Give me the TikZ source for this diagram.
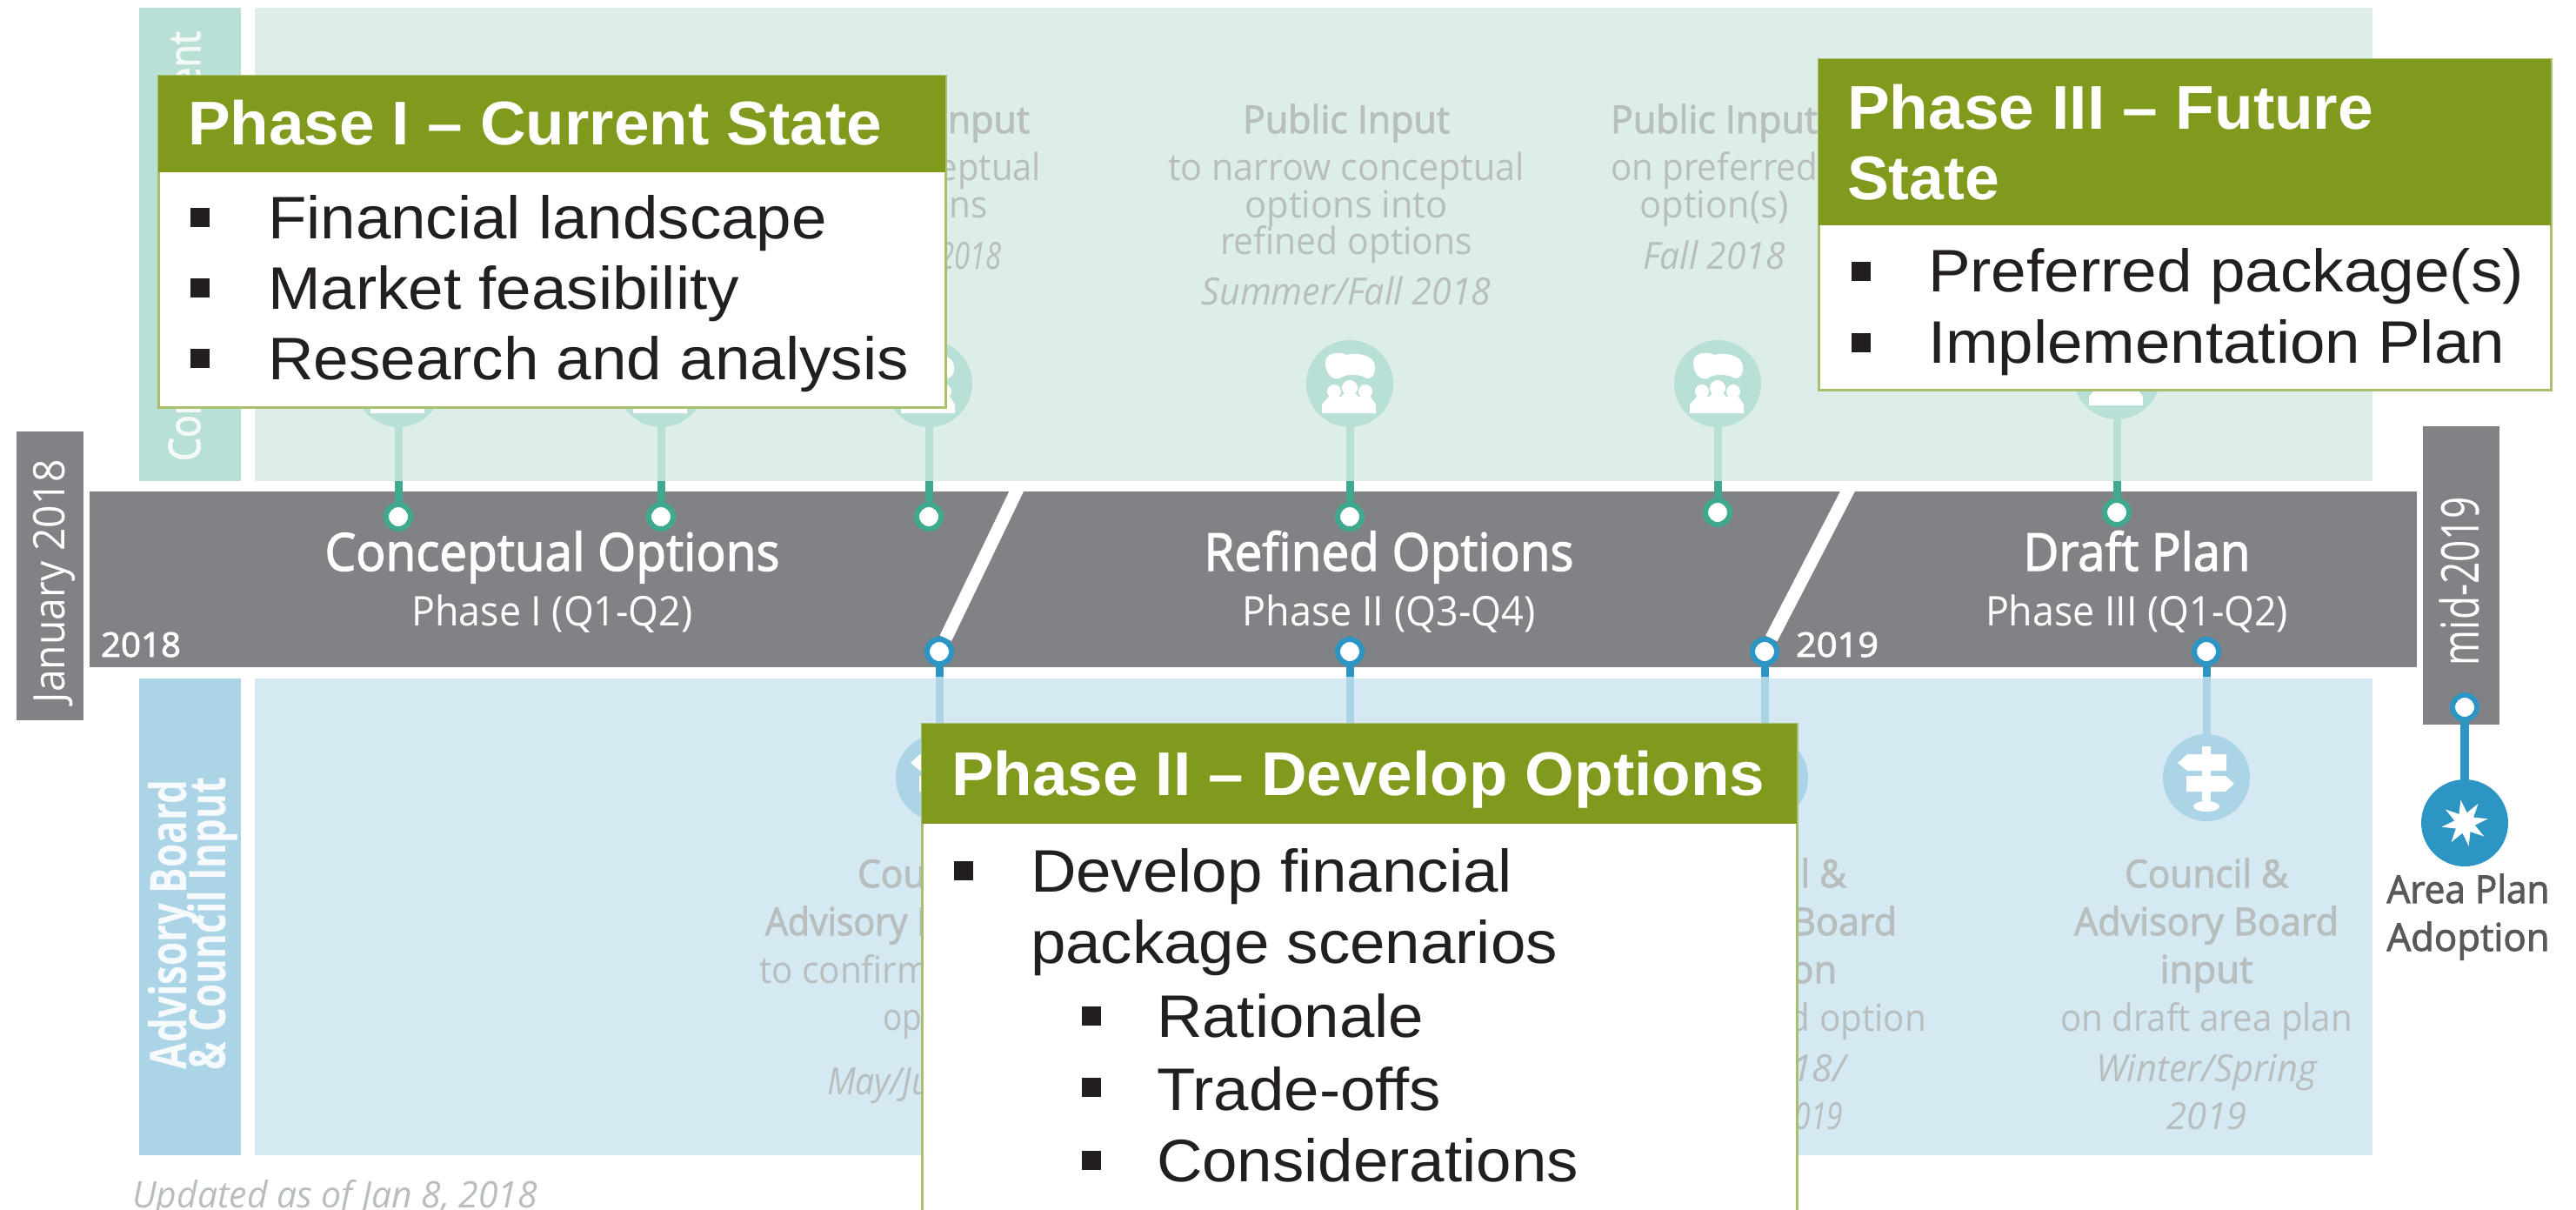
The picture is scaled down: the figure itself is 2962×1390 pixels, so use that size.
\documentclass[tikz,border=0pt]{standalone}
\usepackage{graphicx}
\usepackage{fontspec}
\setmainfont{Open Sans}
\newfontfamily\arialf{Liberation Sans}
\newfontfamily\osemi[FakeBold=2.2]{Open Sans}
\definecolor{tealmain}{HTML}{DDEDE8}
\definecolor{tealstrip}{HTML}{B9E0D6}
\definecolor{tealdark}{HTML}{3FA98F}
\definecolor{tealicon}{HTML}{B9E0D6}
\definecolor{bluemain}{HTML}{D4E9F2}
\definecolor{bluestrip}{HTML}{ABD4E6}
\definecolor{bluedark}{HTML}{2D95C4}
\definecolor{greyband}{HTML}{808285}
\definecolor{fadetext}{HTML}{B8BDBE}
\definecolor{phasegreen}{HTML}{7F9A1C}
\definecolor{phaseedge}{HTML}{A9BF70}
\definecolor{inktext}{HTML}{231F20}
\definecolor{dimtext}{HTML}{58595B}
\newcommand{\fw}[2]{\resizebox{#1pt}{\height}{#2}}
\tikzset{
  lab/.style={anchor=base,inner sep=0pt,outer sep=0pt},
  labw/.style={anchor=base west,inner sep=0pt,outer sep=0pt},
  fade/.style={text=fadetext,font=\fontsize{43}{48}\selectfont},
  fadeb/.style={text=fadetext,font=\fontsize{44}{48}\osemi},
  fadei/.style={text=fadetext,font=\fontsize{43}{48}\itshape},
  title/.style={text=white,font=\fontsize{60}{64}\osemi},
  subt/.style={text=white,font=\fontsize{47}{50}\selectfont},
  yearl/.style={text=white,font=\fontsize{39}{42}\osemi},
  head/.style={text=white,font=\fontsize{71}{75}\arialf\bfseries},
  body/.style={text=inktext,font=\fontsize{69}{75}\arialf},
  bul/.style={fill=inktext,inner sep=0pt,minimum size=22pt,outer sep=0pt},
  tdot/.style={circle,fill=white,draw=tealdark,line width=6pt,minimum size=28pt,inner sep=0pt},
  bdot/.style={circle,fill=white,draw=bluedark,line width=6pt,minimum size=28pt,inner sep=0pt},
  ticon/.style={circle,fill=tealicon,minimum size=100pt,inner sep=0pt,outer sep=0pt},
  bicon/.style={circle,fill=bluestrip,minimum size=100pt,inner sep=0pt,outer sep=0pt},
  tstem/.style={tealicon,line width=9pt},
  tstemd/.style={tealdark,line width=9pt},
  bstem/.style={bluestrip,line width=9pt},
  bstemd/.style={bluedark,line width=9pt},
  slash/.style={white,line width=15pt},
  crowdicon/.pic={
    \fill[white] (-28,-24) .. controls (-28,-37) and (-10,-37) .. (-4,-33)
       .. controls (6,-36) and (28,-34) .. (29,-20)
       .. controls (30,-8) and (22,-3) .. (16,-8)
       .. controls (8,-11) and (-4,-11) .. (-10,-7)
       .. controls (-18,-2) and (-28,-10) .. (-28,-24) -- cycle;
    \fill[white] (-18,9) circle (8) (0,5) circle (9) (18,9) circle (8);
    \fill[white] (-32,34) -- (-32,24) -- (-24,15) -- (-10,15) -- (-6,11) -- (6,11) -- (10,15) -- (24,15) -- (30,24) -- (30,34) -- cycle;
  },
  signicon/.pic={
    \fill[white] (-5,-36) rectangle (5,30);
    \fill[white] (-33,-17) -- (-22,-27) -- (23,-27) -- (23,-8) -- (-22,-8) -- cycle;
    \fill[white] (-23,-2) -- (22,-2) -- (32,7) -- (22,16) -- (-23,16) -- cycle;
    \fill[white] (0,33) ellipse (15 and 6);
  }
}
\begin{document}
\begin{tikzpicture}[x=1pt,y=-1pt]
\clip (0,0) rectangle (2962,1390);
% bands
\fill[tealstrip] (160,9) rectangle (277,553);
\fill[tealmain] (293,9) rectangle (2728,553);
\fill[bluestrip] (160,780) rectangle (277,1328);
\fill[bluemain] (293,780) rectangle (2728,1328);
\fill[greyband] (103,565) rectangle (2779,767);
\fill[greyband] (19,496) rectangle (96,828);
\fill[greyband] (2786,490) rectangle (2874,833);
% named nodes for the timeline
\coordinate (sa) at (1172,558);
\coordinate (sb) at (2128,558);
\foreach \n/\x in {1/1080,2/1552,3/2029,4/2537}{
  \node[bicon] (bi\n) at (\x,894) {};
  \node[bdot] (bd\n) at (\x,749) {};
  \coordinate (bs\n) at (\x,778);
  \pic at (bi\n) {signicon};
  \draw[bstem] (bi\n) -- (bs\n);
  \draw[bstemd] (bs\n) -- (bd\n);
}
\draw[slash] (bd1) -- (sa);
\draw[slash] (bd3) -- (sb);
\node[bdot] at (bd1) {};
\node[bdot] at (bd3) {};
\foreach \n/\x/\y/\iy in {1/458/594/441,2/760/594/441,3/1068/594/441,4/1552/594/441,5/1975/589/441,6/2434/589/432}{
  \node[ticon] (ti\n) at (\x,\iy) {};
  \node[tdot] (td\n) at (\x,\y) {};
  \coordinate (ts\n) at (\x,553);
  \pic at (ti\n) {crowdicon};
  \draw[tstem] (ti\n) -- (ts\n);
  \draw[tstemd] (ts\n) -- (td\n);
}
% adoption
\node[bdot] (md) at (2834,813) {};
\node[circle,fill=bluedark,minimum size=100pt,inner sep=0pt,outer sep=0pt] (ad) at (2834,946) {};
\draw[bluedark,line width=10pt] (md) -- (ad);
\fill[white,shift={(ad)},rotate=10] (0:27) -- (22.5:12) -- (45:27) -- (67.5:12) -- (90:27) -- (112.5:12) -- (135:27) -- (157.5:12) -- (180:27) -- (202.5:12) -- (225:27) -- (247.5:12) -- (270:27) -- (292.5:12) -- (315:27) -- (337.5:12) -- cycle;
% rotated labels
\node[lab,rotate=90,text=white,font=\fontsize{50}{54}\selectfont] (jan) at (74,668) {\fw{280}{January 2018}};
\node[lab,rotate=90,text=white,font=\fontsize{60}{64}\selectfont] (mid) at (2850,668) {\fw{194}{mid-2019}};
\node[lab,rotate=90,text=white,opacity=.8,font=\fontsize{50}{52}\osemi] (ce) at (230,283) {\fw{494}{Community Engagement}};
\node[lab,rotate=90,text=white,opacity=.9,font=\fontsize{58}{60}\selectfont\bfseries] (ab1) at (214,1063) {\fw{332}{Advisory Board}};
\node[lab,rotate=90,text=white,opacity=.9,font=\fontsize{58}{60}\selectfont\bfseries] (ab2) at (259,1062) {\fw{337}{\& Council Input}};
% timeline titles
\node[lab,title] (c1) at (635,656) {\fw{523}{Conceptual Options}};
\node[lab,subt] (c2) at (635,719) {\fw{323}{Phase I (Q1-Q2)}};
\node[lab,title] (r1) at (1597,656) {\fw{425}{Refined Options}};
\node[lab,subt] (r2) at (1597,719) {\fw{337}{Phase II (Q3-Q4)}};
\node[lab,title] (p1) at (2457,656) {\fw{261}{Draft Plan}};
\node[lab,subt] (p2) at (2457,719) {\fw{348}{Phase III (Q1-Q2)}};
\node[labw,yearl] (y18) at (116,755) {\fw{92}{2018}};
\node[labw,yearl] (y19) at (2065,755) {\fw{95}{2019}};
% faded upper text
\node[lab,fadeb] (a1) at (1065,153) {\fw{238}{Public Input}};
\node[lab,fade] (a2) at (1065,207) {\fw{264}{on conceptual}};
\node[lab,fade] (a3) at (1065,250) {\fw{142}{options}};
\node[lab,fadei] (a4) at (1065,309) {\fw{174}{Spring 2018}};
\node[lab,fadeb] (f1) at (1548,153) {\fw{238}{Public Input}};
\node[lab,fade] (f2) at (1548,207) {\fw{410}{to narrow conceptual}};
\node[lab,fade] (f3) at (1548,250) {\fw{233}{options into}};
\node[lab,fade] (f4) at (1548,292) {\fw{290}{refined options}};
\node[lab,fadei] (f5) at (1548,350) {\fw{333}{Summer/Fall 2018}};
\node[lab,fadeb] (g1) at (1971,153) {\fw{238}{Public Input}};
\node[lab,fade] (g2) at (1971,207) {\fw{238}{on preferred}};
\node[lab,fade] (g3) at (1971,250) {\fw{171}{option(s)}};
\node[lab,fadei] (g4) at (1971,309) {\fw{163}{Fall 2018}};
% faded lower text
\node[lab,fadeb] (h1) at (1080,1020) {\fw{188}{Council \&}};
\node[lab,fadeb] (h2) at (1080,1075) {\fw{400}{Advisory Board input}};
\node[lab,fade] (h3) at (1080,1130) {\fw{414}{to confirm conceptual}};
\node[lab,fade] (h4) at (1080,1184) {\fw{130}{options}};
\node[lab,fadei] (h5) at (1080,1258) {\fw{258}{May/June 2018}};
\node[lab,fadeb] (i1) at (2029,1020) {\fw{188}{Council \&}};
\node[lab,fadeb] (i2) at (2029,1075) {\fw{304}{Advisory Board}};
\node[lab,fadeb] (i3) at (2029,1130) {\fw{166}{decision}};
\node[lab,fade] (i4) at (2029,1185) {\fw{372}{on preferred option}};
\node[lab,fadei] (i5) at (2029,1243) {\fw{186}{Fall 2018/}};
\node[lab,fadei] (i6) at (2029,1298) {\fw{180}{Winter 2019}};
\node[lab,fadeb] (j1) at (2537,1020) {\fw{188}{Council \&}};
\node[lab,fadeb] (j2) at (2537,1075) {\fw{304}{Advisory Board}};
\node[lab,fadeb] (j3) at (2537,1130) {\fw{107}{input}};
\node[lab,fade] (j4) at (2537,1185) {\fw{336}{on draft area plan}};
\node[lab,fadei] (j5) at (2537,1243) {\fw{254}{Winter/Spring}};
\node[lab,fadei] (j6) at (2537,1298) {\fw{92}{2019}};
\node[lab,text=dimtext,font=\fontsize{44}{46}\osemi] (ap1) at (2838,1038) {\fw{187}{Area Plan}};
\node[lab,text=dimtext,font=\fontsize{44}{46}\osemi] (ap2) at (2838,1093) {\fw{187}{Adoption}};
\node[labw,text=fadetext,font=\fontsize{42}{44}\itshape] (upd) at (152,1388) {\fw{466}{Updated as of Jan 8, 2018}};
% Phase I
\fill[white,draw=phaseedge,line width=3pt] (182,87) rectangle (1087,468);
\fill[phasegreen] (182,87) rectangle (1087,198);
\node[labw,head] (ph1) at (216,166) {\fw{798}{Phase I – Current State}};
\node[bul] (b11) at (229.5,250) {};
\node[bul] (b12) at (229.5,331) {};
\node[bul] (b13) at (229.5,412) {};
\node[labw,body] (t11) at (308,274) {\fw{643}{Financial landscape}};
\node[labw,body] (t12) at (308,355) {\fw{542}{Market feasibility}};
\node[labw,body] (t13) at (308,436) {\fw{737}{Research and analysis}};
% Phase III
\fill[white,draw=phaseedge,line width=3pt] (2091,68) rectangle (2933,448);
\fill[phasegreen] (2091,68) rectangle (2933,259);
\node[labw,head] (ph3a) at (2124,148) {\fw{605}{Phase III – Future}};
\node[labw,head] (ph3b) at (2124,229) {\fw{175}{State}};
\node[bul] (b31) at (2139.5,312) {};
\node[bul] (b32) at (2139.5,394) {};
\node[labw,body] (t31) at (2217,335) {\fw{685}{Preferred package(s)}};
\node[labw,body] (t32) at (2217,417) {\fw{663}{Implementation Plan}};
% Phase II
\fill[white,draw=phaseedge,line width=3pt] (1060,832) rectangle (2066,1400);
\fill[phasegreen] (1060,832) rectangle (2066,947);
\node[labw,head] (ph2) at (1094,914) {\fw{935}{Phase II – Develop Options}};
\node[bul] (b21) at (1107.5,1001) {};
\node[bul] (b22) at (1254.5,1168) {};
\node[bul] (b23) at (1254.5,1250) {};
\node[bul] (b24) at (1254.5,1334) {};
\node[labw,body] (t21) at (1185,1025) {\fw{554}{Develop financial}};
\node[labw,body] (t22) at (1185,1107) {\fw{606}{package scenarios}};
\node[labw,body] (t23) at (1330,1192) {\fw{307}{Rationale}};
\node[labw,body] (t24) at (1330,1276) {\fw{327}{Trade-offs}};
\node[labw,body] (t25) at (1330,1358) {\fw{485}{Considerations}};
\end{tikzpicture}
\end{document}
